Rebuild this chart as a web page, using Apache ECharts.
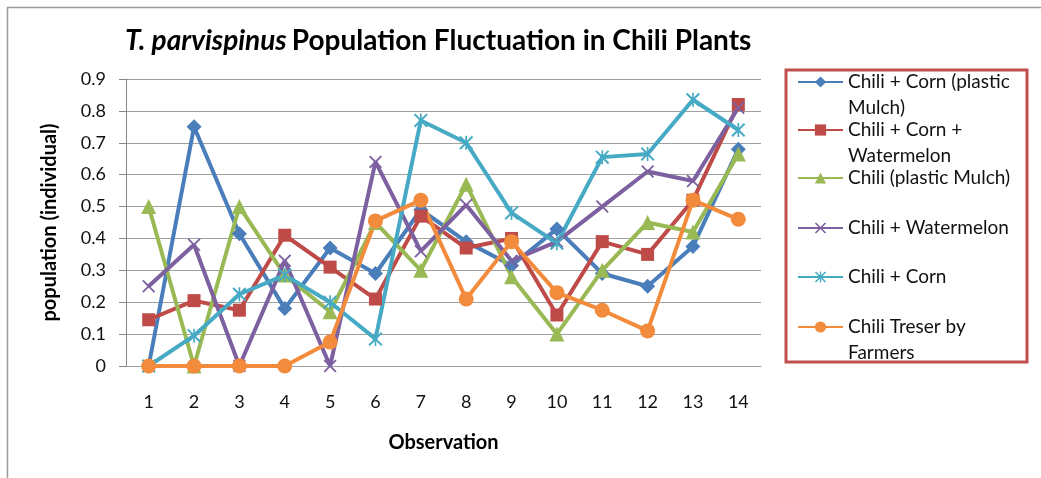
<!DOCTYPE html>
<html>
<head>
<meta charset="utf-8">
<script src="https://cdn.jsdelivr.net/npm/echarts@6/dist/echarts.min.js"></script>
<style>
  html, body { margin: 0; padding: 0; background: #fff; }
  #chart { width: 1041px; height: 478px; }
</style>
</head>
<body>
<div id="chart"></div>
<script>
// observations 1..14
var observations = ["1", "2", "3", "4", "5", "6", "7", "8", "9", "10", "11", "12", "13", "14"];

var seriesNames = [
  "Chili + Corn (plastic\nMulch)",
  "Chili + Corn +\nWatermelon",
  "Chili (plastic Mulch)",
  "Chili + Watermelon",
  "Chili + Corn",
  "Chili Treser by\nFarmers"
];

var cornPlasticMulch = [0, 0.75, 0.415, 0.18, 0.37, 0.29, 0.49, 0.39, 0.315, 0.43, 0.29, 0.25, 0.375, 0.68];
var cornWatermelon   = [0.145, 0.205, 0.175, 0.41, 0.31, 0.21, 0.47, 0.37, 0.40, 0.16, 0.39, 0.35, 0.52, 0.82];
var plasticMulch     = [0.5, 0, 0.5, 0.285, 0.17, 0.45, 0.30, 0.57, 0.28, 0.10, 0.30, 0.45, 0.42, 0.665];
var watermelon       = [0.25, 0.38, 0, 0.33, 0, 0.64, 0.36, 0.505, 0.33, 0.39, 0.50, 0.61, 0.58, 0.81];
var corn             = [0, 0.095, 0.225, 0.285, 0.20, 0.085, 0.77, 0.70, 0.48, 0.385, 0.655, 0.665, 0.835, 0.74];
var farmers          = [0, 0, 0, 0, 0.075, 0.455, 0.52, 0.21, 0.39, 0.23, 0.175, 0.11, 0.52, 0.46];

var seriesValues = [cornPlasticMulch, cornWatermelon, plasticMulch, watermelon, corn, farmers];

var colors = ["#4A7EBB", "#BE4B48", "#98B954", "#7D60A0", "#46AAC5", "#F38B3C"];

// symbol shapes, x and asterisk drawn as filled paths
var crossPath = "path://M0,1L1,0L10,9L9,10ZM9,0L10,1L1,10L0,9Z";
var starPath = "path://M0,1L1,0L10,9L9,10ZM9,0L10,1L1,10L0,9ZM4.4,0L5.6,0L5.6,10L4.4,10Z";
var symbols = ["diamond", "rect", "triangle", crossPath, starPath, "circle"];
var symbolSizes = [15, 13, 15, 13, 14, 15];

var fontFamily = "Lato, 'Noto Sans', sans-serif";

var chart = echarts.init(document.getElementById("chart"));

// one legend per item so every item sits at its own row
var legendTops = [43, 91, 165, 215, 264, 288];
var legends = seriesNames.map(function (name, i) {
  var twoLines = name.indexOf("\n") >= 0;
  return {
    orient: "vertical",
    left: 797,
    top: legendTops[i],
    padding: 0,
    itemWidth: 45,
    itemHeight: 14,
    itemGap: 0,
    selectedMode: false,
    data: [name],
    // empty first line keeps the icon level with the first text line
    formatter: function (n) {
      return twoLines ? "\n" + n : n;
    },
    textStyle: {
      fontFamily: fontFamily,
      fontSize: 19,
      color: "#111",
      lineHeight: 26
    }
  };
});

var series = seriesNames.map(function (name, i) {
  return {
    name: name,
    type: "line",
    data: seriesValues[i],
    symbol: symbols[i],
    symbolSize: symbolSizes[i],
    showAllSymbol: true,
    lineStyle: { width: 4, color: colors[i] },
    itemStyle: { color: colors[i] },
    emphasis: { disabled: true }
  };
});

var option = {
  animation: false,
  color: colors,
  title: {
    text: "{i|T. parvispinus} {b|Population Fluctuation in Chili Plants}",
    left: 120,
    top: 22,
    textStyle: {
      rich: {
        i: { fontFamily: fontFamily, fontSize: 28, fontWeight: "bold", fontStyle: "italic", color: "#000" },
        b: { fontFamily: fontFamily, fontSize: 28, fontWeight: "bold", color: "#000" }
      }
    }
  },
  legend: legends,
  grid: {
    left: 126,
    right: 280,
    top: 79,
    bottom: 112,
    containLabel: false
  },
  xAxis: {
    type: "category",
    data: observations,
    boundaryGap: true,
    name: "Observation",
    nameLocation: "middle",
    nameGap: 67,
    nameTextStyle: { fontFamily: fontFamily, fontSize: 20, fontWeight: "bold", color: "#000" },
    axisLine: { show: true, lineStyle: { color: "#A0A0A0", width: 1 } },
    axisTick: { show: false },
    axisLabel: { margin: 27, fontFamily: fontFamily, fontSize: 18, color: "#111" }
  },
  yAxis: {
    type: "value",
    min: 0,
    max: 0.9,
    interval: 0.1,
    name: "population (individual)",
    nameLocation: "middle",
    nameGap: 66,
    nameTextStyle: { fontFamily: fontFamily, fontSize: 20, fontWeight: "bold", color: "#000" },
    axisLine: { show: true, lineStyle: { color: "#868686", width: 1 } },
    axisTick: { show: true, length: 7, lineStyle: { color: "#868686" } },
    axisLabel: { margin: 20, fontFamily: fontFamily, fontSize: 18, color: "#111" },
    splitLine: { show: true, lineStyle: { color: "#A0A0A0", width: 1.2 } }
  },
  graphic: [
    {
      type: "rect",
      shape: { x: 7.5, y: 7.5, width: 1100, height: 500 },
      style: { fill: null, stroke: "#9A9A9A", lineWidth: 1.5 },
      silent: true
    },
    {
      type: "rect",
      shape: { x: 786, y: 70, width: 241, height: 292 },
      style: { fill: null, stroke: "#C0504D", lineWidth: 3 },
      silent: true
    }
  ],
  series: series
};

chart.setOption(option);
window.addEventListener("resize", function () {
  chart.resize();
});
</script>
</body>
</html>
